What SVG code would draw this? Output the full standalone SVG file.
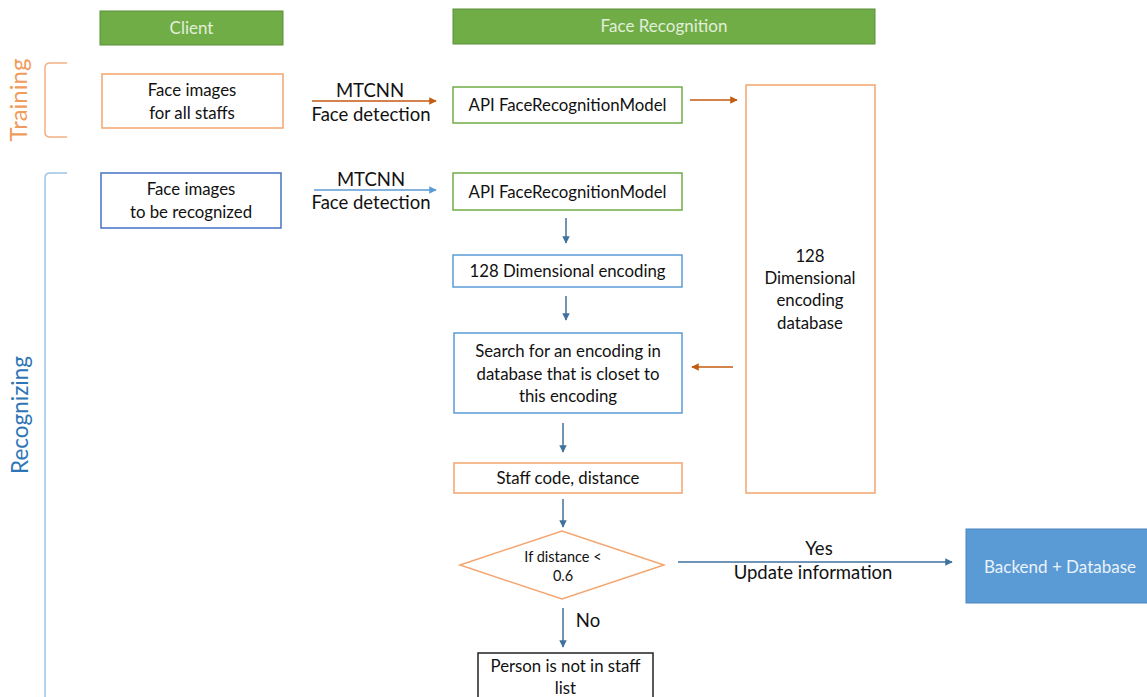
<svg xmlns="http://www.w3.org/2000/svg" width="1147" height="697" viewBox="0 0 1147 697">
<defs>
<style>
text{font-family:Lato,"Open Sans","Liberation Sans",sans-serif;fill:#111;text-anchor:middle}
.hdr{fill:#70ad47;stroke:#5a8f3a;stroke-width:1}
.hdrt{fill:#e2efd9;font-size:17px}
.box{fill:#fff;stroke-width:1.5}
.or{stroke:#f4a56e}
.gr{stroke:#70ad47}
.bl{stroke:#5b9bd5}
.bld{stroke:#4472c4}
.t15{font-size:16.8px}
.t17{font-size:18.5px}
.con{fill:none;stroke-width:1.5}
</style>
<marker id="ao" viewBox="0 0 10 10" refX="9" refY="5" markerWidth="5" markerHeight="5" orient="auto"><path d="M0,0L10,5L0,10z" fill="#c55a11"/></marker>
<marker id="ab" viewBox="0 0 10 10" refX="9" refY="5" markerWidth="5" markerHeight="5" orient="auto"><path d="M0,0L10,5L0,10z" fill="#41719c"/></marker>
<marker id="abl" viewBox="0 0 10 10" refX="9" refY="5" markerWidth="5" markerHeight="5" orient="auto"><path d="M0,0L10,5L0,10z" fill="#5b9bd5"/></marker>
</defs>
<rect width="1147" height="697" fill="#fff"/>

<g id="header-client"><rect class="hdr" x="100" y="11" width="183" height="34"/><text class="hdrt" x="191.5" y="34">Client</text></g>
<g id="header-face"><rect class="hdr" x="453" y="9" width="422" height="35"/><text class="hdrt" x="664" y="32">Face Recognition</text></g>

<g id="training-label">
<path d="M67,63 H50 Q45,63 45,68 V132 Q45,137 50,137 H67" fill="none" stroke="#f4b183" stroke-width="1.5"/>
<text transform="translate(27,100) rotate(-90)" style="font-size:24px;fill:#f09c5c">Training</text>
</g>
<g id="recognizing-label">
<path d="M67,173 H50 Q45,173 45,178 V697" fill="none" stroke="#9dc3e6" stroke-width="1.5"/>
<text transform="translate(28,415) rotate(-90)" style="font-size:22.5px;fill:#2e75b6">Recognizing</text>
</g>

<g id="face-images-staff"><rect class="box or" x="102" y="74" width="181" height="54"/><text class="t15" x="192" y="96">Face images</text><text class="t15" x="192" y="119">for all staffs</text></g>
<g id="face-images-recog"><rect class="box bld" x="101" y="173" width="180" height="55"/><text class="t15" x="191" y="195">Face images</text><text class="t15" x="191" y="218">to be recognized</text></g>

<g id="api-train"><rect class="box gr" x="453" y="87" width="229" height="36"/><text class="t15" x="567.5" y="111">API FaceRecognitionModel</text></g>
<g id="api-recog"><rect class="box gr" x="453" y="173" width="229" height="37"/><text class="t15" x="567.5" y="198">API FaceRecognitionModel</text></g>
<g id="encoding"><rect class="box bl" x="453" y="255" width="229" height="32"/><text class="t15" x="567.5" y="277">128 Dimensional encoding</text></g>
<g id="search"><rect class="box bl" x="454" y="333" width="228" height="80"/><text class="t15" x="568" y="357">Search for an encoding in</text><text class="t15" x="568" y="380">database that is closet to</text><text class="t15" x="568" y="402">this encoding</text></g>
<g id="staff-code"><rect class="box or" x="454" y="463" width="228" height="30"/><text class="t15" x="568" y="484">Staff code, distance</text></g>
<g id="database"><rect class="box or" x="746" y="85" width="129" height="408"/><text class="t15" x="810" y="262">128</text><text class="t15" x="810" y="284">Dimensional</text><text class="t15" x="810" y="306">encoding</text><text class="t15" x="810" y="329">database</text></g>
<g id="decision"><path d="M460,565 L562,531 L664,565 L562,599 Z" fill="#fff" stroke="#f4a56e" stroke-width="1.5"/><text x="563" y="562" style="font-size:14.5px">If distance &lt;</text><text x="563" y="581" style="font-size:14.5px">0.6</text></g>
<g id="backend"><rect x="966" y="529" width="182" height="74" fill="#5b9bd5" stroke="#4a86c0" stroke-width="1"/><text x="1060" y="573" style="font-size:17px;fill:#eaf2fb">Backend + Database</text></g>
<g id="not-staff"><rect x="478" y="653" width="175" height="50" fill="#fff" stroke="#222" stroke-width="1.5"/><text class="t15" x="565.5" y="672">Person is not in staff</text><text class="t15" x="565.5" y="694">list</text></g>

<g id="connectors">
<line class="con" x1="312" y1="101" x2="436" y2="101" stroke="#c55a11" marker-end="url(#ao)"/>
<text class="t17" x="370" y="97">MTCNN</text><text class="t17" x="371" y="121">Face detection</text>
<line class="con" x1="314" y1="190" x2="436" y2="190" stroke="#5b9bd5" marker-end="url(#abl)"/>
<text class="t17" x="371" y="186">MTCNN</text><text class="t17" x="371" y="209">Face detection</text>
<line class="con" x1="690" y1="100" x2="737" y2="100" stroke="#c55a11" marker-end="url(#ao)"/>
<line class="con" x1="566" y1="218" x2="566" y2="243" stroke="#41719c" marker-end="url(#ab)"/>
<line class="con" x1="566" y1="296" x2="566" y2="320" stroke="#41719c" marker-end="url(#ab)"/>
<line class="con" x1="733" y1="367" x2="692" y2="367" stroke="#c55a11" marker-end="url(#ao)"/>
<line class="con" x1="563" y1="423" x2="563" y2="452" stroke="#41719c" marker-end="url(#ab)"/>
<line class="con" x1="563" y1="499" x2="563" y2="527" stroke="#41719c" marker-end="url(#ab)"/>
<line class="con" x1="678" y1="562" x2="952" y2="562" stroke="#41719c" marker-end="url(#ab)"/>
<text class="t17" x="819" y="555">Yes</text><text class="t17" x="813" y="579">Update information</text>
<line class="con" x1="563" y1="608" x2="563" y2="647" stroke="#41719c" marker-end="url(#ab)"/>
<text class="t17" x="588" y="627">No</text>
</g>
</svg>
